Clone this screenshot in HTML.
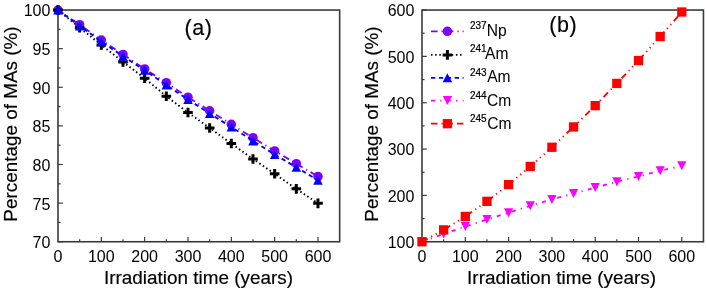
<!DOCTYPE html>
<html><head><meta charset="utf-8"><style>
html,body{margin:0;padding:0;background:#fff;}
svg{display:block;will-change:transform;}
text{font-family:"Liberation Sans",sans-serif;fill:#000;}
.al,.pl{stroke:#000;stroke-width:0.18px;}
.sup{stroke:#000;stroke-width:0.2px;}
.tl{font-size:16px;}
.al{font-size:18.9px;}
.pl{font-size:21.5px;letter-spacing:0.6px;}
.lg{font-size:15.6px;}
.sup{font-size:10px;}
</style></head><body>
<svg width="707" height="292" viewBox="0 0 707 292">
<rect width="707" height="292" fill="#fff"/>
<rect x="58.00" y="10.05" width="281.65" height="231.70" fill="none" stroke="#3a3a3a" stroke-width="1.6"/>
<line x1="79.66" y1="241.75" x2="79.66" y2="239.15" stroke="#3a3a3a" stroke-width="1.2"/>
<line x1="101.33" y1="241.75" x2="101.33" y2="236.95" stroke="#3a3a3a" stroke-width="1.2"/>
<line x1="123.00" y1="241.75" x2="123.00" y2="239.15" stroke="#3a3a3a" stroke-width="1.2"/>
<line x1="144.66" y1="241.75" x2="144.66" y2="236.95" stroke="#3a3a3a" stroke-width="1.2"/>
<line x1="166.32" y1="241.75" x2="166.32" y2="239.15" stroke="#3a3a3a" stroke-width="1.2"/>
<line x1="187.99" y1="241.75" x2="187.99" y2="236.95" stroke="#3a3a3a" stroke-width="1.2"/>
<line x1="209.66" y1="241.75" x2="209.66" y2="239.15" stroke="#3a3a3a" stroke-width="1.2"/>
<line x1="231.32" y1="241.75" x2="231.32" y2="236.95" stroke="#3a3a3a" stroke-width="1.2"/>
<line x1="252.99" y1="241.75" x2="252.99" y2="239.15" stroke="#3a3a3a" stroke-width="1.2"/>
<line x1="274.65" y1="241.75" x2="274.65" y2="236.95" stroke="#3a3a3a" stroke-width="1.2"/>
<line x1="296.31" y1="241.75" x2="296.31" y2="239.15" stroke="#3a3a3a" stroke-width="1.2"/>
<line x1="317.98" y1="241.75" x2="317.98" y2="236.95" stroke="#3a3a3a" stroke-width="1.2"/>
<line x1="58.00" y1="241.75" x2="62.80" y2="241.75" stroke="#3a3a3a" stroke-width="1.2"/>
<line x1="58.00" y1="203.13" x2="62.80" y2="203.13" stroke="#3a3a3a" stroke-width="1.2"/>
<line x1="58.00" y1="164.52" x2="62.80" y2="164.52" stroke="#3a3a3a" stroke-width="1.2"/>
<line x1="58.00" y1="125.90" x2="62.80" y2="125.90" stroke="#3a3a3a" stroke-width="1.2"/>
<line x1="58.00" y1="87.28" x2="62.80" y2="87.28" stroke="#3a3a3a" stroke-width="1.2"/>
<line x1="58.00" y1="48.67" x2="62.80" y2="48.67" stroke="#3a3a3a" stroke-width="1.2"/>
<line x1="58.00" y1="10.05" x2="62.80" y2="10.05" stroke="#3a3a3a" stroke-width="1.2"/>
<line x1="58.00" y1="222.44" x2="60.60" y2="222.44" stroke="#3a3a3a" stroke-width="1.2"/>
<line x1="58.00" y1="183.83" x2="60.60" y2="183.83" stroke="#3a3a3a" stroke-width="1.2"/>
<line x1="58.00" y1="145.21" x2="60.60" y2="145.21" stroke="#3a3a3a" stroke-width="1.2"/>
<line x1="58.00" y1="106.59" x2="60.60" y2="106.59" stroke="#3a3a3a" stroke-width="1.2"/>
<line x1="58.00" y1="67.97" x2="60.60" y2="67.97" stroke="#3a3a3a" stroke-width="1.2"/>
<line x1="58.00" y1="29.36" x2="60.60" y2="29.36" stroke="#3a3a3a" stroke-width="1.2"/>
<text x="58.00" y="262.3" class="tl" text-anchor="middle">0</text>
<text x="101.33" y="262.3" class="tl" text-anchor="middle">100</text>
<text x="144.66" y="262.3" class="tl" text-anchor="middle">200</text>
<text x="187.99" y="262.3" class="tl" text-anchor="middle">300</text>
<text x="231.32" y="262.3" class="tl" text-anchor="middle">400</text>
<text x="274.65" y="262.3" class="tl" text-anchor="middle">500</text>
<text x="317.98" y="262.3" class="tl" text-anchor="middle">600</text>
<text x="50.40" y="248.15" class="tl" text-anchor="end">70</text>
<text x="50.40" y="209.53" class="tl" text-anchor="end">75</text>
<text x="50.40" y="170.92" class="tl" text-anchor="end">80</text>
<text x="50.40" y="132.30" class="tl" text-anchor="end">85</text>
<text x="50.40" y="93.68" class="tl" text-anchor="end">90</text>
<text x="50.40" y="55.07" class="tl" text-anchor="end">95</text>
<text x="50.40" y="16.45" class="tl" text-anchor="end">100</text>
<rect x="422.00" y="10.05" width="281.45" height="231.70" fill="none" stroke="#3a3a3a" stroke-width="1.6"/>
<line x1="443.65" y1="241.75" x2="443.65" y2="239.15" stroke="#3a3a3a" stroke-width="1.2"/>
<line x1="465.30" y1="241.75" x2="465.30" y2="236.95" stroke="#3a3a3a" stroke-width="1.2"/>
<line x1="486.95" y1="241.75" x2="486.95" y2="239.15" stroke="#3a3a3a" stroke-width="1.2"/>
<line x1="508.60" y1="241.75" x2="508.60" y2="236.95" stroke="#3a3a3a" stroke-width="1.2"/>
<line x1="530.25" y1="241.75" x2="530.25" y2="239.15" stroke="#3a3a3a" stroke-width="1.2"/>
<line x1="551.90" y1="241.75" x2="551.90" y2="236.95" stroke="#3a3a3a" stroke-width="1.2"/>
<line x1="573.55" y1="241.75" x2="573.55" y2="239.15" stroke="#3a3a3a" stroke-width="1.2"/>
<line x1="595.20" y1="241.75" x2="595.20" y2="236.95" stroke="#3a3a3a" stroke-width="1.2"/>
<line x1="616.85" y1="241.75" x2="616.85" y2="239.15" stroke="#3a3a3a" stroke-width="1.2"/>
<line x1="638.50" y1="241.75" x2="638.50" y2="236.95" stroke="#3a3a3a" stroke-width="1.2"/>
<line x1="660.15" y1="241.75" x2="660.15" y2="239.15" stroke="#3a3a3a" stroke-width="1.2"/>
<line x1="681.80" y1="241.75" x2="681.80" y2="236.95" stroke="#3a3a3a" stroke-width="1.2"/>
<line x1="422.00" y1="241.75" x2="426.80" y2="241.75" stroke="#3a3a3a" stroke-width="1.2"/>
<line x1="422.00" y1="195.41" x2="426.80" y2="195.41" stroke="#3a3a3a" stroke-width="1.2"/>
<line x1="422.00" y1="149.07" x2="426.80" y2="149.07" stroke="#3a3a3a" stroke-width="1.2"/>
<line x1="422.00" y1="102.73" x2="426.80" y2="102.73" stroke="#3a3a3a" stroke-width="1.2"/>
<line x1="422.00" y1="56.39" x2="426.80" y2="56.39" stroke="#3a3a3a" stroke-width="1.2"/>
<line x1="422.00" y1="10.05" x2="426.80" y2="10.05" stroke="#3a3a3a" stroke-width="1.2"/>
<line x1="422.00" y1="218.58" x2="424.60" y2="218.58" stroke="#3a3a3a" stroke-width="1.2"/>
<line x1="422.00" y1="172.24" x2="424.60" y2="172.24" stroke="#3a3a3a" stroke-width="1.2"/>
<line x1="422.00" y1="125.90" x2="424.60" y2="125.90" stroke="#3a3a3a" stroke-width="1.2"/>
<line x1="422.00" y1="79.56" x2="424.60" y2="79.56" stroke="#3a3a3a" stroke-width="1.2"/>
<line x1="422.00" y1="33.22" x2="424.60" y2="33.22" stroke="#3a3a3a" stroke-width="1.2"/>
<text x="422.00" y="262.3" class="tl" text-anchor="middle">0</text>
<text x="465.30" y="262.3" class="tl" text-anchor="middle">100</text>
<text x="508.60" y="262.3" class="tl" text-anchor="middle">200</text>
<text x="551.90" y="262.3" class="tl" text-anchor="middle">300</text>
<text x="595.20" y="262.3" class="tl" text-anchor="middle">400</text>
<text x="638.50" y="262.3" class="tl" text-anchor="middle">500</text>
<text x="681.80" y="262.3" class="tl" text-anchor="middle">600</text>
<text x="414.40" y="248.15" class="tl" text-anchor="end">100</text>
<text x="414.40" y="201.81" class="tl" text-anchor="end">200</text>
<text x="414.40" y="155.47" class="tl" text-anchor="end">300</text>
<text x="414.40" y="109.13" class="tl" text-anchor="end">400</text>
<text x="414.40" y="62.79" class="tl" text-anchor="end">500</text>
<text x="414.40" y="16.45" class="tl" text-anchor="end">600</text>
<polyline points="58.00,10.05 79.66,24.72 101.33,40.02 123.00,54.46 144.66,68.98 166.32,82.73 187.99,97.17 209.66,110.76 231.32,124.28 252.99,137.72 274.65,150.92 296.31,163.67 317.98,176.57" fill="none" stroke="#8000ff" stroke-width="1.85" stroke-dasharray="6.6 4 1.2 4"/>
<circle cx="58.00" cy="10.05" r="4.75" fill="#8000ff"/>
<circle cx="79.66" cy="24.72" r="4.75" fill="#8000ff"/>
<circle cx="101.33" cy="40.02" r="4.75" fill="#8000ff"/>
<circle cx="123.00" cy="54.46" r="4.75" fill="#8000ff"/>
<circle cx="144.66" cy="68.98" r="4.75" fill="#8000ff"/>
<circle cx="166.32" cy="82.73" r="4.75" fill="#8000ff"/>
<circle cx="187.99" cy="97.17" r="4.75" fill="#8000ff"/>
<circle cx="209.66" cy="110.76" r="4.75" fill="#8000ff"/>
<circle cx="231.32" cy="124.28" r="4.75" fill="#8000ff"/>
<circle cx="252.99" cy="137.72" r="4.75" fill="#8000ff"/>
<circle cx="274.65" cy="150.92" r="4.75" fill="#8000ff"/>
<circle cx="296.31" cy="163.67" r="4.75" fill="#8000ff"/>
<circle cx="317.98" cy="176.57" r="4.75" fill="#8000ff"/>
<polyline points="58.00,10.05 79.66,27.81 101.33,44.88 123.00,61.95 144.66,78.25 166.32,96.24 187.99,112.46 209.66,127.99 231.32,143.51 252.99,159.03 274.65,173.78 296.31,188.85 317.98,203.37" fill="none" stroke="#000" stroke-width="1.85" stroke-dasharray="1.5 2.65"/>
<path d="M53.20 10.05H62.80M58.00 5.25V14.85" stroke="#000" stroke-width="3"/>
<path d="M74.86 27.81H84.46M79.66 23.01V32.61" stroke="#000" stroke-width="3"/>
<path d="M96.53 44.88H106.13M101.33 40.08V49.68" stroke="#000" stroke-width="3"/>
<path d="M118.20 61.95H127.80M123.00 57.15V66.75" stroke="#000" stroke-width="3"/>
<path d="M139.86 78.25H149.46M144.66 73.45V83.05" stroke="#000" stroke-width="3"/>
<path d="M161.52 96.24H171.12M166.32 91.44V101.04" stroke="#000" stroke-width="3"/>
<path d="M183.19 112.46H192.79M187.99 107.66V117.26" stroke="#000" stroke-width="3"/>
<path d="M204.85 127.99H214.46M209.66 123.19V132.79" stroke="#000" stroke-width="3"/>
<path d="M226.52 143.51H236.12M231.32 138.71V148.31" stroke="#000" stroke-width="3"/>
<path d="M248.19 159.03H257.79M252.99 154.23V163.83" stroke="#000" stroke-width="3"/>
<path d="M269.85 173.78H279.45M274.65 168.98V178.58" stroke="#000" stroke-width="3"/>
<path d="M291.51 188.85H301.12M296.31 184.05V193.65" stroke="#000" stroke-width="3"/>
<path d="M313.18 203.37H322.78M317.98 198.57V208.17" stroke="#000" stroke-width="3"/>
<polyline points="58.00,10.05 79.66,25.88 101.33,41.64 123.00,56.16 144.66,70.29 166.32,85.12 187.99,99.49 209.66,113.47 231.32,127.06 252.99,140.88 274.65,154.48 296.31,167.30 317.98,180.20" fill="none" stroke="#0000ff" stroke-width="1.85" stroke-dasharray="4.3 3.6"/>
<polygon points="53.25,14.55 62.75,14.55 58.00,5.55" fill="#0000ff"/>
<polygon points="74.91,30.38 84.41,30.38 79.66,21.38" fill="#0000ff"/>
<polygon points="96.58,46.14 106.08,46.14 101.33,37.14" fill="#0000ff"/>
<polygon points="118.25,60.66 127.75,60.66 123.00,51.66" fill="#0000ff"/>
<polygon points="139.91,74.79 149.41,74.79 144.66,65.79" fill="#0000ff"/>
<polygon points="161.57,89.62 171.07,89.62 166.32,80.62" fill="#0000ff"/>
<polygon points="183.24,103.99 192.74,103.99 187.99,94.99" fill="#0000ff"/>
<polygon points="204.91,117.97 214.41,117.97 209.66,108.97" fill="#0000ff"/>
<polygon points="226.57,131.56 236.07,131.56 231.32,122.56" fill="#0000ff"/>
<polygon points="248.24,145.38 257.74,145.38 252.99,136.38" fill="#0000ff"/>
<polygon points="269.90,158.98 279.40,158.98 274.65,149.98" fill="#0000ff"/>
<polygon points="291.56,171.80 301.06,171.80 296.31,162.80" fill="#0000ff"/>
<polygon points="313.23,184.70 322.73,184.70 317.98,175.70" fill="#0000ff"/>
<polyline points="422.00,241.75 443.65,234.01 465.30,226.50 486.95,219.51 508.60,212.69 530.25,205.79 551.90,199.40 573.55,193.60 595.20,187.58 616.85,181.79 638.50,176.41 660.15,170.80 681.80,165.80" fill="none" stroke="#ff00ff" stroke-width="1.85" stroke-dasharray="4 5.3 1.2 5.3"/>
<polygon points="417.40,237.25 426.60,237.25 422.00,246.25" fill="#ff00ff"/>
<polygon points="439.05,229.51 448.25,229.51 443.65,238.51" fill="#ff00ff"/>
<polygon points="460.70,222.00 469.90,222.00 465.30,231.00" fill="#ff00ff"/>
<polygon points="482.35,215.01 491.55,215.01 486.95,224.01" fill="#ff00ff"/>
<polygon points="504.00,208.19 513.20,208.19 508.60,217.19" fill="#ff00ff"/>
<polygon points="525.65,201.29 534.85,201.29 530.25,210.29" fill="#ff00ff"/>
<polygon points="547.30,194.90 556.50,194.90 551.90,203.90" fill="#ff00ff"/>
<polygon points="568.95,189.10 578.15,189.10 573.55,198.10" fill="#ff00ff"/>
<polygon points="590.60,183.08 599.80,183.08 595.20,192.08" fill="#ff00ff"/>
<polygon points="612.25,177.29 621.45,177.29 616.85,186.29" fill="#ff00ff"/>
<polygon points="633.90,171.91 643.10,171.91 638.50,180.91" fill="#ff00ff"/>
<polygon points="655.55,166.30 664.75,166.30 660.15,175.30" fill="#ff00ff"/>
<polygon points="677.20,161.30 686.40,161.30 681.80,170.30" fill="#ff00ff"/>
<polyline points="422.00,241.75 443.65,229.89 465.30,216.49 486.95,201.34 508.60,184.57 530.25,166.45 551.90,147.26 573.55,126.92 595.20,105.65 616.85,83.41 638.50,60.56 660.15,36.51 681.80,12.00" fill="none" stroke="#ff0000" stroke-width="1.85" stroke-dasharray="6.5 3.95 1.2 3.95 1.2 3.95 1.2 3.95"/>
<rect x="417.35" y="237.10" width="9.3" height="9.3" fill="#ff0000"/>
<rect x="439.00" y="225.24" width="9.3" height="9.3" fill="#ff0000"/>
<rect x="460.65" y="211.84" width="9.3" height="9.3" fill="#ff0000"/>
<rect x="482.30" y="196.69" width="9.3" height="9.3" fill="#ff0000"/>
<rect x="503.95" y="179.92" width="9.3" height="9.3" fill="#ff0000"/>
<rect x="525.60" y="161.80" width="9.3" height="9.3" fill="#ff0000"/>
<rect x="547.25" y="142.61" width="9.3" height="9.3" fill="#ff0000"/>
<rect x="568.90" y="122.27" width="9.3" height="9.3" fill="#ff0000"/>
<rect x="590.55" y="101.00" width="9.3" height="9.3" fill="#ff0000"/>
<rect x="612.20" y="78.76" width="9.3" height="9.3" fill="#ff0000"/>
<rect x="633.85" y="55.91" width="9.3" height="9.3" fill="#ff0000"/>
<rect x="655.50" y="31.86" width="9.3" height="9.3" fill="#ff0000"/>
<rect x="677.15" y="7.35" width="9.3" height="9.3" fill="#ff0000"/>
<line x1="431" y1="31.3" x2="463.6" y2="31.3" stroke="#8000ff" stroke-width="1.8" stroke-dasharray="6.6 4 1.2 4"/>
<circle cx="447.40" cy="31.30" r="4.75" fill="#8000ff"/>
<text x="470.0" y="29.1" class="sup">237</text>
<text x="486.7" y="35.9" class="lg">Np</text>
<line x1="431" y1="54.9" x2="463.6" y2="54.9" stroke="#000" stroke-width="1.8" stroke-dasharray="1.5 2.65"/>
<path d="M442.60 54.90H452.20M447.40 50.10V59.70" stroke="#000" stroke-width="3"/>
<text x="470.0" y="52.3" class="sup">241</text>
<text x="485.1" y="59.1" class="lg">Am</text>
<line x1="431" y1="77.8" x2="463.6" y2="77.8" stroke="#0000ff" stroke-width="1.8" stroke-dasharray="4.3 3.6"/>
<polygon points="442.65,82.30 452.15,82.30 447.40,73.30" fill="#0000ff"/>
<text x="470.0" y="75.5" class="sup">243</text>
<text x="487.2" y="82.3" class="lg">Am</text>
<line x1="431" y1="100.6" x2="463.6" y2="100.6" stroke="#ff00ff" stroke-width="1.8" stroke-dasharray="4 5.3 1.2 5.3"/>
<polygon points="442.80,96.10 452.00,96.10 447.40,105.10" fill="#ff00ff"/>
<text x="470.0" y="98.7" class="sup">244</text>
<text x="487.0" y="105.5" class="lg">Cm</text>
<line x1="431" y1="123.7" x2="463.6" y2="123.7" stroke="#ff0000" stroke-width="1.8" stroke-dasharray="6.5 3.95 1.2 3.95 1.2 3.95 1.2 3.95"/>
<rect x="442.75" y="119.05" width="9.3" height="9.3" fill="#ff0000"/>
<text x="470.0" y="121.9" class="sup">245</text>
<text x="487.3" y="128.7" class="lg">Cm</text>
<text x="184.5" y="34.7" class="pl">(a)</text>
<text x="549.2" y="31.8" class="pl">(b)</text>
<text x="198.5" y="284" class="al" text-anchor="middle">Irradiation time (years)</text>
<text x="561.6" y="284" class="al" text-anchor="middle">Irradiation time (years)</text>
<text x="16.7" y="124" class="al" text-anchor="middle" transform="rotate(-90 16.7 124)">Percentage of MAs (%)</text>
<text x="377.8" y="124" class="al" text-anchor="middle" transform="rotate(-90 377.8 124)">Percentage of MAs (%)</text>
</svg>
</body></html>
